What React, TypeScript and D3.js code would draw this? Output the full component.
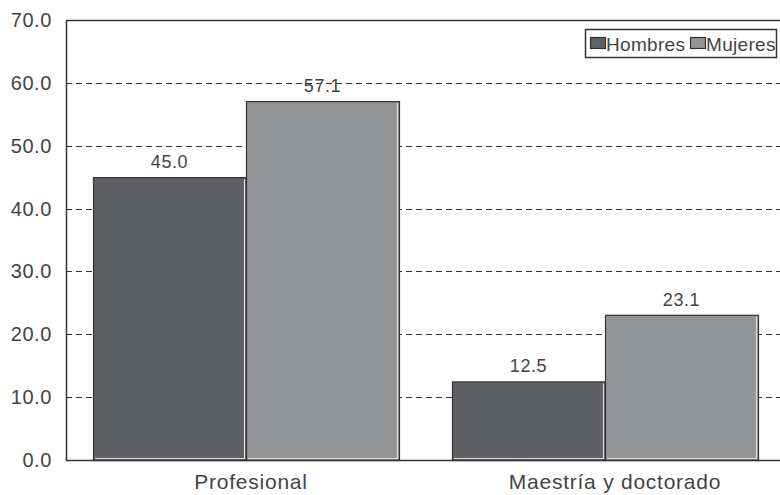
import React from "react";
import * as d3 from "d3";

const categories = ["Profesional", "Maestría y doctorado"];
const seriesNames = ["Hombres", "Mujeres"];
const hombres = [45.0, 12.5];
const mujeres = [57.1, 23.1];
const yTicks = [0, 10, 20, 30, 40, 50, 60, 70];
const colors = ["#5f6063", "#939496"];

const W = 780;
const H = 495;
const left = 66;
const top = 20;
const bottom = 460;
const right = 784;
const font = "'Liberation Sans', Arial, sans-serif";
const textColor = "#444";

export default function App() {
  const y = d3.scaleLinear().domain([0, 70]).range([bottom, top]);
  const x0 = d3.scaleBand<string>().domain(categories).range([left, right]).padding(0);
  const xLabel = d3.scaleBand<string>().domain(categories).range([left + 3, right + 13]).padding(0);
  const x1 = d3
    .scaleBand<string>()
    .domain(seriesNames)
    .range([27, x0.bandwidth() - 26])
    .padding(0);
  const values = [hombres, mujeres];

  return (
    <svg
      width={W}
      height={H}
      style={{ position: "absolute", left: 0, top: 0, background: "#fff" }}
      fontFamily={font}
    >
      <rect x={0} y={0} width={W} height={H} fill="#fff" />
      {/* grid lines */}
      {yTicks
        .filter((t) => t > 0 && t < 70)
        .map((t) => (
          <line
            key={t}
            x1={left}
            x2={W}
            y1={Math.round(y(t)) + 0.5}
            y2={Math.round(y(t)) + 0.5}
            stroke="#333"
            strokeWidth={1}
            strokeDasharray="6,4"
          />
        ))}
      {/* bars */}
      {categories.map((c, ci) =>
        seriesNames.map((s, si) => {
          const v = values[si][ci];
          const bx = (x0(c) as number) + (x1(s) as number);
          const by = y(v);
          const bw = x1.bandwidth();
          const bh = bottom - by;
          return (
            <g key={c + s}>
              <rect x={bx + 0.5} y={by + 0.5} width={bw} height={bh} fill={colors[si]} stroke="#333" strokeWidth={1.2} />
              <line x1={bx + 2} x2={bx + bw - 1} y1={bottom - 1.5} y2={bottom - 1.5} stroke="#ddd" strokeWidth={1.2} />
              <line x1={bx + bw - 1.5} x2={bx + bw - 1.5} y1={by + 2} y2={bottom - 1} stroke="#ddd" strokeWidth={1.2} />
              <text
                x={bx + bw / 2}
                y={by - 9}
                textAnchor="middle"
                fontSize={18}
                fill={textColor}
                letterSpacing={0.6}
              >
                {v.toFixed(1)}
              </text>
            </g>
          );
        })
      )}
      {/* frame */}
      <line x1={left} x2={W} y1={top + 0.5} y2={top + 0.5} stroke="#333" strokeWidth={1.5} />
      <line x1={left} x2={W} y1={bottom + 0.5} y2={bottom + 0.5} stroke="#333" strokeWidth={1.5} />
      <line x1={left + 0.5} x2={left + 0.5} y1={top} y2={bottom + 1} stroke="#333" strokeWidth={1.5} />
      {/* y tick labels */}
      {yTicks.map((t) => (
        <text
          key={t}
          x={52}
          y={y(t) + 7}
          textAnchor="end"
          fontSize={20}
          fill={textColor}
          letterSpacing={0.6}
        >
          {t.toFixed(1)}
        </text>
      ))}
      {/* x labels */}
      {categories.map((c) => (
        <text
          key={c}
          x={(xLabel(c) as number) + xLabel.bandwidth() / 2}
          y={489}
          textAnchor="middle"
          fontSize={21}
          fill={textColor}
          letterSpacing={0.75}
        >
          {c}
        </text>
      ))}
      {/* legend */}
      <rect x={585.5} y={29.5} width={191} height={28} fill="#fff" stroke="#333" strokeWidth={1.5} />
      {seriesNames.map((s, i) => {
        const lx = i === 0 ? 590 : 690;
        return (
          <g key={s}>
            <rect x={lx + 0.5} y={37.5} width={15} height={11} fill={colors[i]} stroke="#333" strokeWidth={1.2} />
            <text x={lx + 16} y={50.5} fontSize={19} fill={textColor} letterSpacing={0.3}>
              {s}
            </text>
          </g>
        );
      })}
    </svg>
  );
}
